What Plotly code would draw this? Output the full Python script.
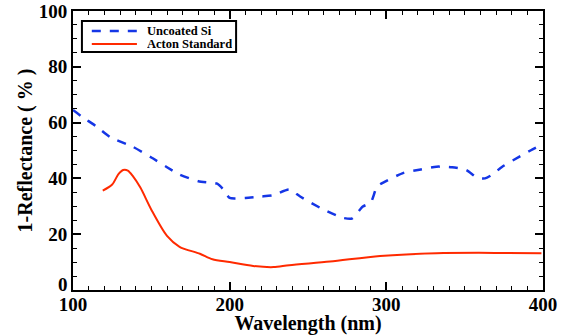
import plotly.graph_objects as go

# Uncoated silicon: 1 - reflectance (%) vs wavelength (nm)
si_wavelength = [100, 106, 115, 124, 138, 150, 160, 168, 180, 192, 196, 200, 210, 220, 228,
                 238, 245, 260, 272, 278, 285, 290, 294, 298, 311, 322, 332, 342, 351, 358,
                 363, 368, 374, 385, 392, 399]
si_value = [64.5, 62, 58.6, 54.7, 51.4, 47.5, 44, 41.4, 39, 38.1, 36, 33, 33, 33.5, 34,
            36, 33.5, 28.8, 25.9, 25.6, 29.9, 31.3, 37, 38.5, 42, 43.2, 44.2, 44, 43, 40.2,
            40, 41.5, 44.2, 47.8, 50, 52]

# Acton standard coating
acton_wavelength = [119, 125, 129, 132, 135, 138, 143, 150, 160, 168, 181, 189, 200, 215,
                    228, 238, 264, 296, 332, 374, 399]
acton_value = [35.6, 37.8, 41.5, 43, 42.8, 41, 36.7, 28.8, 19.4, 15.5, 13, 11, 10, 8.6,
               8.2, 8.9, 10.2, 12.2, 13.2, 13.3, 13.2]

# y tick labels; the "0" is set a little above its tick so it clears the "100" below
y_ticks = [0, 20, 40, 60, 80, 100]
y_tick_labels = ["0", "20", "40", "60", "80", "100"]

series_names = ["Uncoated Si", "Acton Standard"]
series_colors = ["#1536e6", "#ff2a00"]
series_dash = ["dash", "solid"]
series_width = [2.5, 2]

serif = "Liberation Serif"

fig = go.Figure()
fig.add_trace(go.Scatter(
    x=si_wavelength, y=si_value, mode="lines", name=series_names[0],
    line=dict(color=series_colors[0], width=series_width[0], dash=series_dash[0],
              shape="spline", smoothing=0.6),
))
fig.add_trace(go.Scatter(
    x=acton_wavelength, y=acton_value, mode="lines", name=series_names[1],
    line=dict(color=series_colors[1], width=series_width[1], dash=series_dash[1],
              shape="spline", smoothing=0.8),
))

tick_font = dict(family=serif, size=19, weight="bold")
axis_common = dict(
    showline=True, linecolor="black", linewidth=2, mirror="ticks",
    ticks="inside", ticklen=8, tickwidth=1.5, tickcolor="black",
    showgrid=False, zeroline=False, automargin=False,
    tickfont=tick_font,
)

fig.update_xaxes(
    range=[100, 400], dtick=100, tick0=100, ticklabelstandoff=-4,
    minor=dict(ticks="inside", ticklen=4, tickwidth=1.2, tickcolor="black", dtick=10),
    title=dict(text="Wavelength (nm)", standoff=0,
               font=dict(family=serif, size=20, weight="bold")),
    **axis_common,
)
fig.update_yaxes(
    range=[0, 100], tickvals=y_ticks,
    ticktext=[""] + y_tick_labels[1:], ticklabelstandoff=0,
    minor=dict(ticks="inside", ticklen=4, tickwidth=1.2, tickcolor="black", dtick=5),
    title=dict(text="1-Reflectance ( % )", standoff=1,
               font=dict(family=serif, size=20, weight="bold")),
    **axis_common,
)

annotations = [dict(xref="paper", yref="y", x=0, y=y_ticks[0], text=y_tick_labels[0],
                    xanchor="right", yanchor="middle", xshift=-3, yshift=6,
                    showarrow=False, font=tick_font)]

# Boxed key in the upper-left corner of the plot area
box_x0, box_x1, box_y0, box_y1 = 0.019, 0.347, 0.853, 0.964
sample_x0, sample_x1 = 0.040, 0.136
row_y = [0.928, 0.882]
text_x = 0.155

shapes = [dict(type="rect", xref="paper", yref="paper",
               x0=box_x0, x1=box_x1, y0=box_y0, y1=box_y1,
               line=dict(color="black", width=2), fillcolor="white", layer="above")]
for name, color, dash, width, yy in zip(series_names, series_colors, series_dash,
                                        series_width, row_y):
    shapes.append(dict(type="line", xref="paper", yref="paper",
                       x0=sample_x0, x1=sample_x1, y0=yy, y1=yy, layer="above",
                       line=dict(color=color, width=width, dash=dash)))
    annotations.append(dict(xref="paper", yref="paper", x=text_x, y=yy,
                            xanchor="left", yanchor="middle", showarrow=False,
                            text=name, height=12, borderpad=0,
                            font=dict(family=serif, size=12.5, weight="bold")))

fig.update_layout(
    width=564, height=335,
    margin=dict(l=73, r=21, t=11, b=45),
    paper_bgcolor="white", plot_bgcolor="white",
    font=dict(family=serif, color="black"),
    showlegend=False,
    shapes=shapes,
    annotations=annotations,
)

fig.write_html("out.html")
